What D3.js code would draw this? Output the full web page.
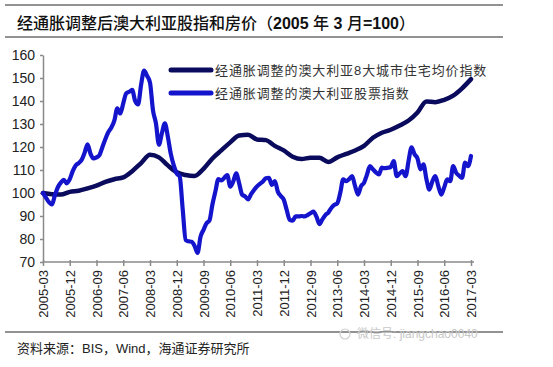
<!DOCTYPE html>
<html><head><meta charset="utf-8">
<script src="https://cdn.jsdelivr.net/npm/d3@7"></script>
<style>
body{margin:0;background:#fff;}
svg{display:block;}
text{font-family:"Liberation Sans","Noto Sans CJK SC",sans-serif;}
</style></head>
<body><svg id="c" width="553" height="367"></svg>
<script>
// ---- data ----
const startMonth = "2005-03";
const tickLabels = ["2005-03","2005-12","2006-09","2007-06","2008-03","2008-12","2009-09","2010-06","2011-03","2011-12","2012-09","2013-06","2014-03","2014-12","2015-09","2016-06","2017-03"];
const yTicks = [70,80,90,100,110,120,130,140,150,160];
const seriesNames = ["经通胀调整的澳大利亚8大城市住宅均价指数","经通胀调整的澳大利亚股票指数"];
// housing index, quarterly, 2005-03 .. 2017-03 (49 values)
const houseQuarterly = [100,99.5,99.3,100.5,101,102,103.2,104.8,106,106.8,109.5,113,
  116.6,115.5,112,109,107.8,107.4,110.5,115,118.5,122,125,125.3,
  123.3,123,120.5,118.5,115.8,114.8,115.3,115.3,113.5,115.5,117,118.5,
  120.5,124,126.2,127.5,129.3,131.5,135,139.8,139.5,140.5,142.3,145.5,149.5];
// stock index, monthly, 2005-03 .. 2017-03 (145 values)
const stockMonthly = [
  100,98,96,95,99,102.5,104.5,105.7,104.2,106,109.5,112,          // 2005-03..2006-02
  113,114.4,117.5,121.2,117,115,115.5,116.5,120,123.5,126.5,128.5, // 2006-03..2007-02
  131.5,136.8,134.6,139,143.3,144,144.8,140,138.5,147,153.2,151,  // 2007-03..2008-02
  148,136,130.3,121,126,130.3,124.5,117,112,108.5,107.1,93,       // 2008-03..2009-02
  79.6,79,78.8,77,74,81,84,86.8,88,95,100.7,106,                  // 2009-03..2010-02
  105.5,106.6,107.8,102.8,105,108.5,104.2,99.3,98.5,97.2,99.5,101.3, // 2010-03..2011-02
  102.9,104,105,106.4,106.6,103.5,105.2,100.6,98.7,97.1,92.6,88.3,  // 2011-03..2012-02
  88,89.8,89.8,90,89.8,90.4,91.2,91.9,89.7,86.5,88.5,90.4,          // 2012-03..2013-02
  91.5,93.5,94.8,95.5,100,105.9,105.1,106,107.3,103,99.3,103,       // 2013-03..2014-02
  104.4,108,111.7,110.3,109,108.1,111,110.8,111,111.3,113.9,107.3,  // 2014-03..2015-02
  108.5,109.5,107.3,114,119.8,116.9,115,110.3,112.5,106,101.5,105.1, // 2015-03..2016-02
  107.3,103,99.3,102.5,105.9,105.1,111.7,108.8,107.5,106.6,113.2,111.7, // 2016-03..2017-02
  116.1];                                                           // 2017-03
const colors = ["#0b0b5e","#1414cc"];

// ---- build ----
const fmt = d3.timeFormat("%Y-%m");
const start = d3.timeParse("%Y-%m")(startMonth);
const months = stockMonthly.map((_, i) => fmt(d3.timeMonth.offset(start, i)));
const houseMonths = houseQuarterly.map((_, i) => months[i * 3]);

const svg = d3.select("#c");
const x = d3.scalePoint().domain(months).range([43, 471]);
const y = d3.scaleLinear().domain([70, 160]).range([262, 55]);

// rules
const rule = (yy) => svg.append("line").attr("x1",5).attr("x2",503).attr("y1",yy).attr("y2",yy)
  .attr("stroke","#6e6e6e").attr("stroke-width",1.6);
rule(5); rule(37); rule(332);

// title
const t = svg.append("text").attr("x",17).attr("y",28.5).attr("font-size",16).attr("fill","#111");
t.append("tspan").attr("font-family","Noto Sans CJK SC").attr("font-weight",500).text("经通胀调整后澳大利亚股指和房价（");
t.append("tspan").attr("font-weight","bold").text("2005 ");
t.append("tspan").attr("font-family","Noto Sans CJK SC").attr("font-weight",500).text("年");
t.append("tspan").attr("font-weight","bold").text(" 3 ");
t.append("tspan").attr("font-family","Noto Sans CJK SC").attr("font-weight",500).text("月");
t.append("tspan").attr("font-weight","bold").text("=100");
t.append("tspan").attr("font-family","Noto Sans CJK SC").attr("font-weight",500).text("）");

// y axis
const ya = svg.append("g").attr("transform","translate(43,0)")
  .call(d3.axisLeft(y).tickValues(yTicks).tickSize(3).tickSizeOuter(0).tickPadding(5));
ya.select(".domain").attr("stroke","#8a8a8a").attr("stroke-width",1.5);
ya.selectAll(".tick line").attr("stroke","#8a8a8a").attr("stroke-width",1.5);
ya.selectAll(".tick text").attr("font-size",14).attr("fill","#222")
  .attr("font-family","Liberation Sans");

// x axis
const xa = svg.append("g").attr("transform","translate(0,262)")
  .call(d3.axisBottom(x).tickValues(tickLabels).tickSize(4).tickSizeOuter(0).tickPadding(6));
xa.select(".domain").attr("d","M43,0H474").attr("stroke","#8a8a8a").attr("stroke-width",1.5);
xa.selectAll(".tick line").attr("stroke","#8a8a8a").attr("stroke-width",1.5).attr("y1",-2);
xa.selectAll(".tick text").attr("font-size",13).attr("fill","#222")
  .attr("font-family","Liberation Sans")
  .attr("transform","rotate(-90)").attr("text-anchor","end").attr("dy","0.35em")
  .attr("x",-8).attr("y",0);

// lines
const line = d3.line().curve(d3.curveMonotoneX);
svg.append("path")
  .attr("d", line(houseQuarterly.map((v,i)=>[x(houseMonths[i]), y(v)])))
  .attr("fill","none").attr("stroke",colors[0]).attr("stroke-width",4.5)
  .attr("stroke-linejoin","round").attr("stroke-linecap","round");
svg.append("path")
  .attr("d", line(stockMonthly.map((v,i)=>[x(months[i]), y(v)])))
  .attr("fill","none").attr("stroke",colors[1]).attr("stroke-width",4.2)
  .attr("stroke-linejoin","round").attr("stroke-linecap","round");

// legend
seriesNames.forEach((n,i)=>{
  const ly = 70 + i*23;
  svg.append("line").attr("x1",171).attr("x2",211).attr("y1",ly).attr("y2",ly)
    .attr("stroke",colors[i]).attr("stroke-width",5).attr("stroke-linecap","round");
  svg.append("text").attr("x",215).attr("y",ly+4.5).attr("font-size",13)
    .attr("letter-spacing",0.9).attr("fill","#333").attr("font-family","Noto Sans CJK SC").text(n);
});

// source & watermark
svg.append("text").attr("x",17).attr("y",353).attr("font-size",13).attr("fill","#222")
  .text("资料来源：BIS，Wind，海通证券研究所");
svg.append("circle").attr("cx",345).attr("cy",334).attr("r",5).attr("fill","none").attr("stroke","#d0d0d0").attr("stroke-width",1.2);
svg.append("text").attr("x",357).attr("y",338).attr("font-size",12).attr("fill","#c8c8c8")
  .text("微信号: jiangchao0040");
</script></body></html>
